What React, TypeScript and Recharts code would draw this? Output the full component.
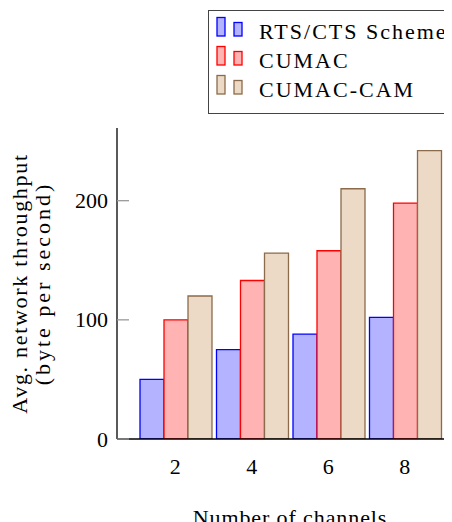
import React from 'react';
import { BarChart, Bar, XAxis, YAxis, Legend } from 'recharts';

const CHANNELS = ['2', '4', '6', '8'];
const RTS_CTS = [50, 75, 88, 102];
const CUMAC = [100, 133, 158, 198];
const CUMAC_CAM = [120, 156, 210, 242];
const Y_TICKS = [0, 100, 200];
const Y_MAX = 261;

const SERIES = [
  { key: 'rts', name: 'RTS/CTS Scheme', values: RTS_CTS, fill: '#b3b3ff', stroke: '#0000ff' },
  { key: 'cumac', name: 'CUMAC', values: CUMAC, fill: '#ffb3b3', stroke: '#ff0000' },
  { key: 'cam', name: 'CUMAC-CAM', values: CUMAC_CAM, fill: '#ecd9c6', stroke: '#8b6b4b' },
];

const data = CHANNELS.map((c, i) => {
  const row: any = { channels: c };
  SERIES.forEach((s) => (row[s.key] = s.values[i]));
  return row;
});

const FONT = "'Liberation Serif', 'DejaVu Serif', 'Times New Roman', serif";
const TXT: React.CSSProperties = { fontFamily: FONT, fontSize: 22 };

const LegendBox = () => (
  <div
    style={{
      border: '1.3px solid #444',
      background: '#fff',
      width: 262,
      height: 104,
      boxSizing: 'border-box',
    }}
  >
    <svg width={260} height={102} style={{ display: 'block' }}>
      {SERIES.map((s, i) => {
        const cy = 20 + i * 29;
        return (
          <g key={s.key}>
            <rect x={8} y={cy - 13.5} width={8} height={18.5} fill={s.fill} stroke={s.stroke} strokeWidth={1.3} />
            <rect x={25} y={cy - 8.5} width={8} height={13.5} fill={s.fill} stroke={s.stroke} strokeWidth={1.3} />
            <text x={50} y={cy} dominantBaseline="central" style={{ ...TXT, letterSpacing: 2 }} fill="#000">
              {s.name}
            </text>
          </g>
        );
      })}
    </svg>
  </div>
);

const YTick = (props: any) => {
  const { x, y, payload } = props;
  return (
    <g>
      <line x1={x} x2={x + 12} y1={y} y2={y} stroke="#999" strokeWidth={1.3} />
      <text x={x - 9} y={y} textAnchor="end" dominantBaseline="central" style={TXT} fill="#000">
        {payload.value}
      </text>
    </g>
  );
};

const YTickRight = (props: any) => {
  const { x, y } = props;
  return <line x1={x - 12} x2={x} y1={y} y2={y} stroke="#999" strokeWidth={1.3} />;
};

const XTick = (props: any) => {
  const { x, y, payload } = props;
  return (
    <text x={x} y={y + 35} textAnchor="middle" style={TXT} fill="#000">
      {payload.value}
    </text>
  );
};

const YLabel = (props: any) => {
  const vb = props.viewBox || {};
  const cy = vb.y + vb.height / 2;
  const x1 = vb.x + 11;
  const x2 = vb.x + 34;
  return (
    <g fill="#000">
      <text x={x1} y={cy} textAnchor="middle" dominantBaseline="central" style={{ ...TXT, letterSpacing: 1.7 }} transform={`rotate(-90, ${x1}, ${cy})`}>
        Avg. network throughput
      </text>
      <text x={x2} y={cy} textAnchor="middle" dominantBaseline="central" style={{ ...TXT, letterSpacing: 3 }} transform={`rotate(-90, ${x2}, ${cy})`}>
        (byte per second)
      </text>
    </g>
  );
};

const XLabel = (props: any) => {
  const vb = props.viewBox || {};
  const cx = vb.x + vb.width / 2;
  return (
    <text x={cx} y={vb.y + 86} textAnchor="middle" style={{ ...TXT, letterSpacing: 0.9 }} fill="#000">
      Number of channels
    </text>
  );
};

export default function App() {
  return (
    <div style={{ width: 444, height: 514, overflow: 'hidden', position: 'relative' }}>
      <BarChart
        width={470}
        height={514}
        data={data}
        margin={{ top: 120, right: 15, bottom: 0, left: 0 }}
        barCategoryGap={3}
        barGap={0}
      >
        <XAxis
          dataKey="channels"
          type="category"
          height={83}
          padding={{ left: 20, right: 20 }}
          axisLine={{ stroke: '#000', strokeWidth: 1.3 }}
          tickLine={false}
          tickSize={0}
          tickMargin={0}
          tick={<XTick />}
          interval={0}
          label={<XLabel />}
        />
        <XAxis
          xAxisId="top"
          dataKey="channels"
          orientation="top"
          height={0}
          tick={false}
          tickLine={false}
          axisLine={{ stroke: '#666', strokeWidth: 2 }}
        />
        <YAxis
          width={109}
          domain={[0, Y_MAX]}
          ticks={Y_TICKS}
          type="number"
          allowDataOverflow
          axisLine={{ stroke: '#000', strokeWidth: 1.3 }}
          tickLine={false}
          tickSize={0}
          tickMargin={0}
          tick={<YTick />}
          label={<YLabel />}
        />
        <YAxis
          yAxisId="r"
          orientation="right"
          width={0}
          domain={[0, Y_MAX]}
          ticks={Y_TICKS}
          type="number"
          axisLine={{ stroke: '#000', strokeWidth: 1.3 }}
          tickLine={false}
          tickSize={0}
          tickMargin={0}
          tick={<YTickRight />}
        />
        <Legend
          layout="horizontal"
          verticalAlign="middle"
          align="center"
          wrapperStyle={{ top: 2, left: 200, width: 262, height: 104 }}
          content={() => <LegendBox />}
        />
        {SERIES.map((s) => (
          <Bar
            key={s.key}
            dataKey={s.key}
            name={s.name}
            fill={s.fill}
            stroke={s.stroke}
            strokeWidth={1.3}
            isAnimationActive={false}
          />
        ))}
      </BarChart>
    </div>
  );
}
